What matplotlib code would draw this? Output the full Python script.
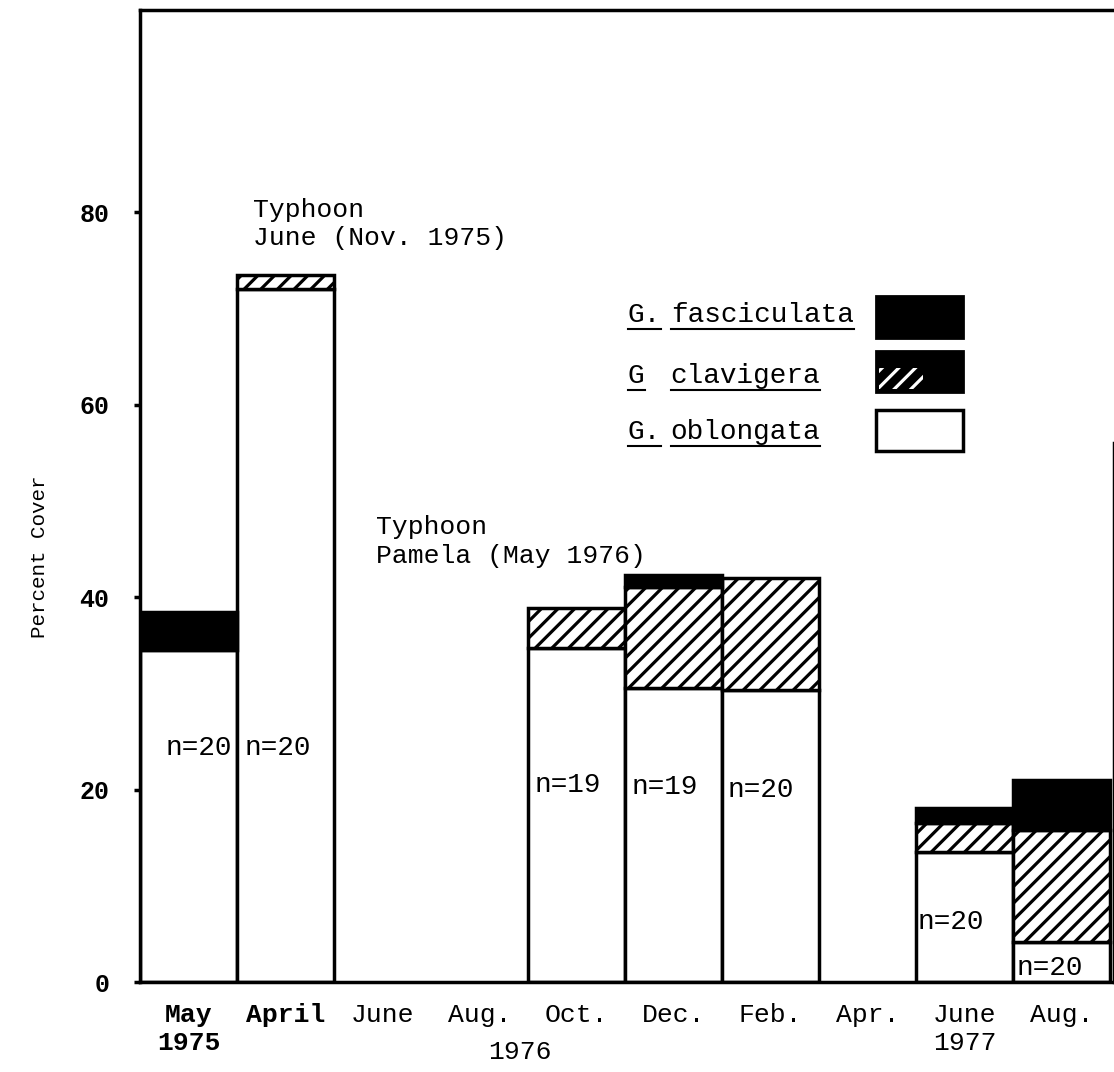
import numpy as np
import matplotlib
matplotlib.use('Agg')
import matplotlib.pyplot as plt
from matplotlib.patches import Rectangle
from matplotlib.lines import Line2D

plt.rcParams['font.family'] = ['Liberation Mono', 'DejaVu Sans Mono']
plt.rcParams['hatch.linewidth'] = 2.3

# percent cover
months = ['May\n1975', 'April', 'June', 'Aug.', 'Oct.', 'Dec.', 'Feb.', 'Apr.', 'June\n1977', 'Aug.']
oblongata = [34.5, 72.0, 0, 0, 34.7, 30.5, 30.3, 0, 13.5, 4.2]
clavigera = [0, 1.5, 0, 0, 4.2, 10.5, 11.7, 0, 3.0, 11.6]
fasciculata = [3.9, 0, 0, 0, 0, 1.3, 0, 0, 1.6, 5.2]
n_labels = ['n=20', 'n=20', '', '', 'n=19', 'n=19', 'n=20', '', 'n=20', 'n=20']
n_label_y = [24.3, 24.3, 0, 0, 20.5, 20.3, 20.0, 0, 6.2, 1.5]
n_label_dx = [0.26, 0.08, 0, 0, 0.07, 0.07, 0.06, 0, 0.02, 0.04]
species = ['fasciculata', 'clavigera', 'oblongata']
genus = ['G.', 'G', 'G.']

x = np.arange(len(months))
obl = np.array(oblongata)
cla = np.array(clavigera)
fas = np.array(fasciculata)

fig = plt.figure(figsize=(11.14, 10.72), dpi=100)
ax = fig.add_axes([140 / 1114, 90 / 1072, 1 - 140 / 1114, 972 / 1072])

m = obl > 0
ax.bar(x[m], obl[m], width=1, color='white', edgecolor='black', linewidth=2.5)
m = cla > 0
ax.bar(x[m], cla[m], width=1, bottom=obl[m], color='white', edgecolor='black',
       linewidth=2.5, hatch='//')
m = fas > 0
ax.bar(x[m], fas[m], width=1, bottom=(obl + cla)[m], color='black', edgecolor='black',
       linewidth=2.5)

for xi, lab, yy, dx in zip(x, n_labels, n_label_y, n_label_dx):
    if lab:
        ax.text(xi - 0.5 + dx, yy, lab, fontsize=20, va='center', ha='left')

ax.text(0.66, 81.5, 'Typhoon\nJune (Nov. 1975)', fontsize=19, va='top', ha='left',
        linespacing=1.25)
ax.text(1.93, 48.5, 'Typhoon\nPamela (May 1976)', fontsize=19, va='top', ha='left',
        linespacing=1.25)

# legend drawn by hand like the original
leg_y = [69.3, 63.0, 57.1]
texts = []
for gy, g, sp in zip(leg_y, genus, species):
    t1 = ax.text(4.53, gy, g, fontsize=20, va='center', ha='left')
    t2 = ax.text(4.97, gy, sp, fontsize=20, va='center', ha='left')
    texts += [t1, t2]
ax.add_patch(Rectangle((7.09, 66.9), 0.89, 4.4, facecolor='black', edgecolor='black', lw=2))
ax.add_patch(Rectangle((7.09, 61.3), 0.89, 4.3, facecolor='black', edgecolor='black', lw=2))
ax.add_patch(Rectangle((7.12, 61.6), 0.45, 2.2, facecolor='none', edgecolor='white', lw=0,
                       hatch='//'))
ax.add_patch(Rectangle((7.09, 55.2), 0.89, 4.2, facecolor='white', edgecolor='black', lw=2.5))

ax.text(3.42, -0.072, '1976', transform=ax.get_xaxis_transform(), fontsize=19,
        ha='center', va='center')

ax.set_xlim(-0.5, 9.54)
ax.set_ylim(0, 101)
ax.set_xticks(x)
ax.set_xticklabels(months, fontsize=19, linespacing=1.2)
for lab in ax.get_xticklabels()[:2]:
    lab.set_fontweight('bold')
ax.set_yticks([0, 20, 40, 60, 80])
ax.tick_params(axis='x', length=0, pad=15)
ax.tick_params(axis='y', length=4, width=2.5, labelsize=18, pad=18)
for lab in ax.get_yticklabels():
    lab.set_fontweight('bold')
ax.set_ylabel('Percent Cover', fontsize=15)
ax.yaxis.set_label_coords(-0.093, 0.437)
ax.spines['right'].set_bounds(0, 56)
for s in ['left', 'top', 'bottom', 'right']:
    ax.spines[s].set_linewidth(2.5)

fig.canvas.draw()
r = fig.canvas.get_renderer()
inv = fig.transFigure.inverted()
for t in texts:
    bb = t.get_window_extent(r)
    (x0, y0), (x1, _) = inv.transform([(bb.x0, bb.y0 - 1), (bb.x1, bb.y0)])
    fig.add_artist(Line2D([x0, x1], [y0, y0], color='black', lw=1.5))

fig.savefig('out.png', dpi=100)
